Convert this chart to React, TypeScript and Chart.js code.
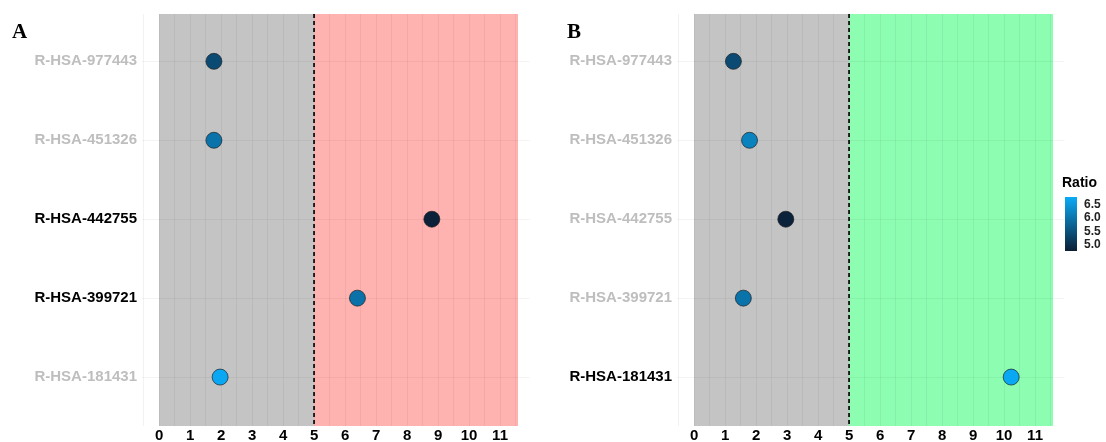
import React, { useEffect, useRef } from "react";
import { Chart, registerables } from "chart.js";
Chart.register(...registerables);

// ---- data ----
const categories = ["R-HSA-977443", "R-HSA-451326", "R-HSA-442755", "R-HSA-399721", "R-HSA-181431"];
const xTickValues = [0, 1, 2, 3, 4, 5, 6, 7, 8, 9, 10, 11];
const valuesA = [1.77, 1.77, 8.8, 6.4, 1.97];
const ratiosA = [5.38, 5.96, 4.76, 5.94, 6.74];
const significantA = [false, false, true, true, false];
const valuesB = [1.27, 1.79, 2.96, 1.59, 10.23];
const ratiosB = [5.38, 6.18, 4.78, 5.96, 6.74];
const significantB = [false, false, false, false, true];
const legendTicks = [5.0, 5.5, 6.0, 6.5];
const ratioLimits = [4.72, 6.78];
const threshold = 5;
const zoneMin = 0;
const zoneMax = 11.58;

const FONT = "'Liberation Sans', Arial, sans-serif";
const LOW = [11, 30, 53];
const HIGH = [10, 171, 247];

function ratioColor(r: number): string {
  const t = Math.max(0, Math.min(1, (r - ratioLimits[0]) / (ratioLimits[1] - ratioLimits[0])));
  const c = LOW.map((l, i) => Math.round(l + (HIGH[i] - l) * t));
  return `rgb(${c[0]},${c[1]},${c[2]})`;
}

type PanelProps = {
  values: number[];
  ratios: number[];
  significant: boolean[];
  zoneColor: string;
  left: number;
  width: number;
  axisWidth: number;
  padRight: number;
};

function Panel({ values, ratios, significant, zoneColor, left, width, axisWidth, padRight }: PanelProps) {
  const ref = useRef<HTMLCanvasElement | null>(null);
  useEffect(() => {
    if (!ref.current) return;
    const zonePlugin = {
      id: "zones",
      beforeDraw(chart: any) {
        const { ctx, chartArea, scales } = chart;
        const x = scales.x;
        const x0 = x.getPixelForValue(zoneMin);
        const x5 = x.getPixelForValue(threshold);
        const x1 = x.getPixelForValue(zoneMax);
        ctx.save();
        ctx.fillStyle = "#C4C4C4";
        ctx.fillRect(x0, chartArea.top, x5 - x0, chartArea.bottom - chartArea.top);
        ctx.fillStyle = zoneColor;
        ctx.fillRect(x5, chartArea.top, x1 - x5, chartArea.bottom - chartArea.top);
        ctx.restore();
      },
      beforeDatasetsDraw(chart: any) {
        const { ctx, chartArea, scales } = chart;
        const xp = scales.x.getPixelForValue(threshold);
        ctx.save();
        ctx.strokeStyle = "#111111";
        ctx.lineWidth = 1.8;
        ctx.setLineDash([4, 3]);
        ctx.beginPath();
        ctx.moveTo(xp, chartArea.top);
        ctx.lineTo(xp, chartArea.bottom);
        ctx.stroke();
        ctx.restore();
      },
    };
    const chart = new Chart(ref.current, {
      type: "scatter",
      data: {
        datasets: [
          {
            data: values.map((v, i) => ({ x: v, y: i + 1 })),
            backgroundColor: ratios.map(ratioColor),
            borderColor: "rgba(25,25,25,0.65)",
            borderWidth: 1,
            pointRadius: 8,
            pointHoverRadius: 8,
          },
        ],
      },
      options: {
        responsive: false,
        animation: false,
        events: [],
        layout: { padding: { top: 13.5, right: padRight, bottom: 0, left: 0 } },
        plugins: { legend: { display: false }, tooltip: { enabled: false } },
        scales: {
          x: {
            type: "linear",
            min: -0.55,
            max: 11.95,
            afterBuildTicks(scale: any) {
              const t: any[] = [];
              for (let v = -0.5; v <= 11.5 + 1e-9; v += 0.5) t.push({ value: v });
              scale.ticks = t;
            },
            afterFit(scale: any) {
              scale.height = 16;
            },
            border: { display: false },
            grid: { color: "rgba(0,0,0,0.05)", lineWidth: 1, drawTicks: false },
            ticks: {
              padding: 1,
              autoSkip: false,
              maxRotation: 0,
              color: "#000000",
              font: { family: FONT, size: 15, weight: "bold" },
              callback: (v: any) => (xTickValues.includes(Number(v)) ? String(v) : ""),
            },
          },
          y: {
            type: "linear",
            reverse: true,
            min: 0.4,
            max: 5.62,
            afterBuildTicks(scale: any) {
              scale.ticks = categories.map((_, i) => ({ value: i + 1 }));
            },
            afterFit(scale: any) {
              scale.width = axisWidth;
            },
            border: { display: false },
            grid: { color: "rgba(0,0,0,0.045)", lineWidth: 1, drawTicks: false },
            ticks: {
              padding: 5,
              autoSkip: false,
              font: { family: FONT, size: 15, weight: "bold" },
              color: (ctx: any) => {
                const i = Math.round(ctx.tick.value) - 1;
                return significant[i] ? "#000000" : "#BEBEBE";
              },
              callback: (v: any) => categories[Math.round(Number(v)) - 1] ?? "",
            },
          },
        },
      } as any,
      plugins: [zonePlugin],
    });
    return () => chart.destroy();
  }, []);
  return (
    <canvas
      ref={ref}
      width={width}
      height={442}
      style={{ position: "absolute", left, top: 0, width, height: 442 }}
    />
  );
}

export default function App() {
  const barTop = 197;
  const barH = 54;
  const yForRatio = (r: number) =>
    barTop + ((ratioLimits[1] - r) / (ratioLimits[1] - ratioLimits[0])) * barH;
  return (
    <div style={{ position: "fixed", left: 0, top: 0, width: 1106, height: 442, background: "#fff", overflow: "hidden" }}>
      <Panel
        values={valuesA}
        ratios={ratiosA}
        significant={significantA}
        zoneColor="#FFB3B0"
        left={0}
        width={545}
        axisWidth={142}
        padRight={15.5}
      />
      <Panel
        values={valuesB}
        ratios={ratiosB}
        significant={significantB}
        zoneColor="#8DFDB1"
        left={545}
        width={561}
        axisWidth={132}
        padRight={41.5}
      />
      <div style={{ position: "absolute", left: 12, top: 21, font: "bold 21px 'Liberation Serif', serif", lineHeight: "21px" }}>A</div>
      <div style={{ position: "absolute", left: 567, top: 21, font: "bold 21px 'Liberation Serif', serif", lineHeight: "21px" }}>B</div>
      <div style={{ position: "absolute", left: 1062, top: 175, fontFamily: FONT, fontWeight: "bold", fontSize: 14, lineHeight: "14px" }}>Ratio</div>
      <div
        style={{
          position: "absolute",
          left: 1065,
          top: barTop,
          width: 12,
          height: barH,
          background: `linear-gradient(to bottom, ${ratioColor(ratioLimits[1])}, ${ratioColor(ratioLimits[0])})`,
        }}
      />
      {legendTicks.map((t) => (
        <div
          key={t}
          style={{
            position: "absolute",
            left: 1084,
            top: yForRatio(t) - 6,
            fontFamily: FONT,
            fontWeight: "bold",
            fontSize: 12,
            lineHeight: "12px",
            color: "#222",
          }}
        >
          {t.toFixed(1)}
        </div>
      ))}
    </div>
  );
}
